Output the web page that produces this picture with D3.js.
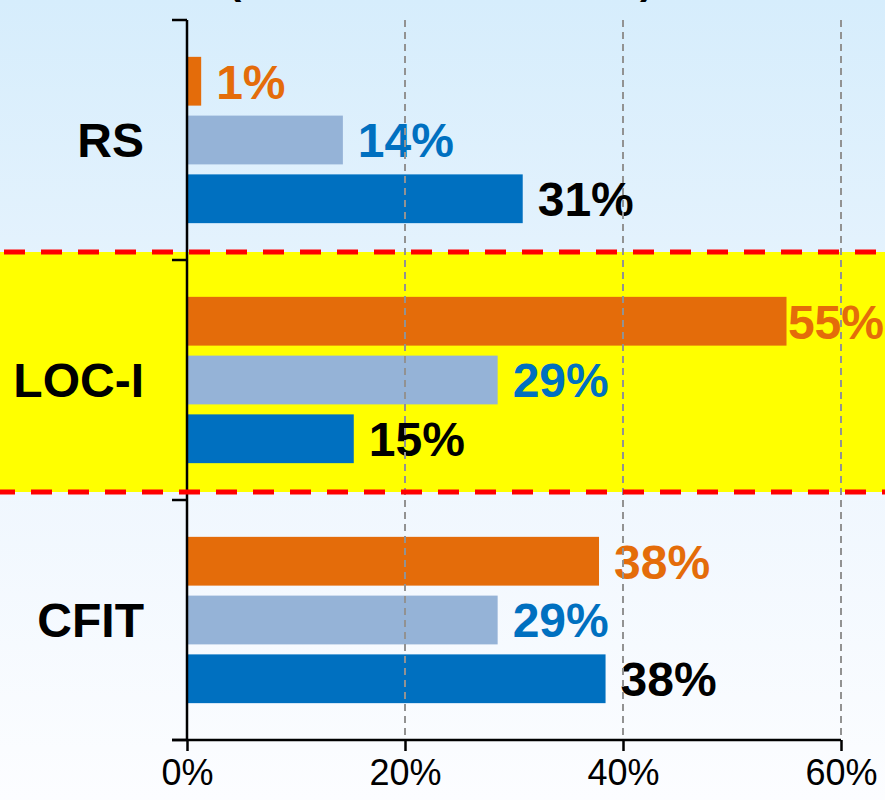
<!DOCTYPE html>
<html>
<head>
<meta charset="utf-8">
<script src="https://cdn.jsdelivr.net/npm/d3@7"></script>
<style>
  body { margin: 0; padding: 0; background: #fff; }
  svg { display: block; font-family: "Liberation Sans", Arial, sans-serif; }
</style>
</head>
<body>
<div id="plothere"></div>
<script>
// chart values
var categories = ["RS", "LOC-I", "CFIT"];
var seriesNames = ["s1", "s2", "s3"];
var s1 = [1.3, 55.0, 37.8];
var s2 = [14.3, 28.5, 28.5];
var s3 = [30.8, 15.3, 38.4];
var xTicks = [0, 20, 40, 60];
var highlighted = "LOC-I";

var barColors = ["#e46c0a", "#95b3d7", "#0070c0"];
var labelColors = ["#e46c0a", "#0070c0", "#000000"];

var W = 885, H = 800;
var margin = {top: 20, right: 44, bottom: 60, left: 187},
    width = W - margin.left - margin.right,
    height = H - margin.top - margin.bottom;

var rows = [];
categories.forEach(function(c, i) {
  [s1, s2, s3].forEach(function(s, j) {
    rows.push({cat: c, ser: seriesNames[j], si: j, value: s[i]});
  });
});

var svg0 = d3.select("#plothere")
  .append("svg")
  .attr("width", W)
  .attr("height", H);

var defs = svg0.append("defs");
var grad = defs.append("linearGradient")
  .attr("id", "bg")
  .attr("x1", 0).attr("y1", 0).attr("x2", 0).attr("y2", 1);
grad.append("stop").attr("offset", "0%").attr("stop-color", "#d6edfc");
grad.append("stop").attr("offset", "55%").attr("stop-color", "#eef6fe");
grad.append("stop").attr("offset", "100%").attr("stop-color", "#fcfdff");

svg0.append("rect")
  .attr("width", W).attr("height", H)
  .attr("fill", "url(#bg)");

var svg = svg0.append("g")
  .attr("transform", "translate(" + margin.left + "," + margin.top + ")");

var x = d3.scaleLinear()
  .domain([0, 60])
  .range([0, width]);

var y = d3.scaleBand()
  .domain(categories)
  .range([0, height]);

var ySub = d3.scaleBand()
  .domain(seriesNames)
  .range([0, y.bandwidth()])
  .paddingInner(0.17)
  .paddingOuter(0.627);

// yellow highlight band (sits a little above the category band)
var hy = y(highlighted) - 8;
svg.append("rect")
  .attr("x", -margin.left)
  .attr("y", hy)
  .attr("width", W)
  .attr("height", y.bandwidth())
  .attr("fill", "#ffff00");

// bars
svg.append("g")
  .selectAll("rect")
  .data(rows)
  .enter()
  .append("rect")
  .attr("x", 0)
  .attr("y", function(d) { return y(d.cat) + ySub(d.ser); })
  .attr("width", function(d) { return x(d.value); })
  .attr("height", ySub.bandwidth())
  .attr("fill", function(d) { return barColors[d.si]; });

// value labels
var labels = svg.append("g")
  .selectAll("text")
  .data(rows)
  .enter()
  .append("text")
  .attr("y", function(d) { return y(d.cat) + ySub(d.ser) + ySub.bandwidth() / 2; })
  .attr("dy", "0.36em")
  .attr("font-size", 48)
  .attr("font-weight", "bold")
  .attr("fill", function(d) { return labelColors[d.si]; })
  .text(function(d) { return Math.round(d.value) + "%"; });
labels.attr("x", function(d) {
  var lx = x(d.value) + 15;
  var w = this.getComputedTextLength();
  if (margin.left + lx + w > W - 1) lx = W - 1 - w - margin.left; // keep inside the picture
  return lx;
});

// dashed gridlines
svg.append("g")
  .selectAll("line")
  .data(xTicks.filter(function(t) { return t > 0; }))
  .enter()
  .append("line")
  .attr("x1", function(d) { return x(d); })
  .attr("x2", function(d) { return x(d); })
  .attr("y1", 0)
  .attr("y2", height)
  .attr("stroke", "#929292")
  .attr("stroke-width", 2)
  .attr("stroke-dasharray", "7,5");

// y axis
var yAxis = svg.append("g")
  .call(d3.axisLeft(y).tickSize(0).tickFormat(""));
yAxis.select(".domain").remove();
svg.append("g")
  .selectAll("line")
  .data(d3.range(categories.length + 1))
  .enter()
  .append("line")
  .attr("x1", -15).attr("x2", 0)
  .attr("y1", function(i) { return i * y.step(); })
  .attr("y2", function(i) { return i * y.step(); })
  .attr("stroke", "#000")
  .attr("stroke-width", 2.5);
svg.append("line")
  .attr("x1", 0).attr("x2", 0)
  .attr("y1", 0).attr("y2", height)
  .attr("stroke", "#000")
  .attr("stroke-width", 2.5);

// category names
svg.append("g")
  .selectAll("text")
  .data(categories)
  .enter()
  .append("text")
  .attr("x", -43)
  .attr("y", function(d) { return y(d) + y.bandwidth() / 2; })
  .attr("dy", "0.36em")
  .attr("text-anchor", "end")
  .attr("font-size", 48)
  .attr("font-weight", "bold")
  .attr("fill", "#000")
  .text(function(d) { return d; });

// x axis
var xAxis = svg.append("g")
  .attr("transform", "translate(0," + height + ")")
  .call(d3.axisBottom(x).tickValues(xTicks).tickSize(11).tickPadding(8)
    .tickFormat(function(d) { return d + "%"; }));
xAxis.select(".domain")
  .attr("d", "M-15,0H" + width)
  .attr("stroke", "#000")
  .attr("stroke-width", 2.5);
xAxis.selectAll(".tick line").attr("stroke", "#000").attr("stroke-width", 2.5);
xAxis.selectAll(".tick text")
  .attr("font-family", "Liberation Sans, Arial, sans-serif")
  .attr("font-size", 36)
  .attr("fill", "#000")
  .attr("dy", "0.71em");

// red dashed borders of the highlight
svg0.append("line")
  .attr("x1", 0).attr("x2", W)
  .attr("y1", margin.top + hy).attr("y2", margin.top + hy)
  .attr("stroke", "#ff0000")
  .attr("stroke-width", 5)
  .attr("stroke-dasharray", "21,16")
  .attr("stroke-dashoffset", 33);
svg0.append("line")
  .attr("x1", 0).attr("x2", W)
  .attr("y1", margin.top + hy + y.bandwidth()).attr("y2", margin.top + hy + y.bandwidth())
  .attr("stroke", "#ff0000")
  .attr("stroke-width", 5)
  .attr("stroke-dasharray", "21,16")
  .attr("stroke-dashoffset", 6);

// title sits above the picture, only its brackets peek in
svg0.append("text").attr("x", 228).attr("y", -6).attr("font-size", 40).attr("font-weight", "bold").text("(");
svg0.append("text").attr("x", 640).attr("y", -6).attr("font-size", 40).attr("font-weight", "bold").text(")");
</script>
</body>
</html>
